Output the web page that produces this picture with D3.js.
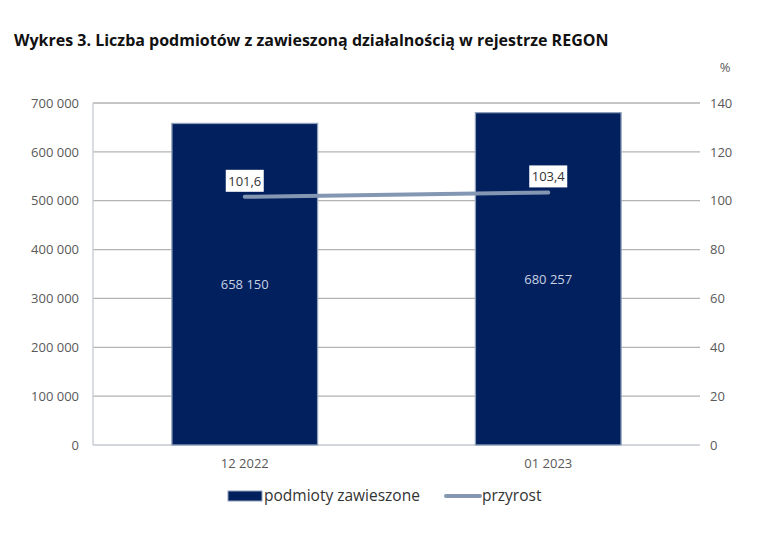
<!DOCTYPE html>
<html>
<head>
<meta charset="utf-8">
<script src="https://cdn.jsdelivr.net/npm/d3@7"></script>
<style>
  body { margin: 0; background: #fff; }
  text { font-family: "Open Sans", sans-serif; }
</style>
</head>
<body>
<div id="chart-div"></div>
<script>
const categories = ["12 2022", "01 2023"];
const suspended = [658150, 680257];
const growth = [101.6, 103.4];
const leftTicks = [0, 100000, 200000, 300000, 400000, 500000, 600000, 700000];
const rightTicks = [0, 20, 40, 60, 80, 100, 120, 140];

const svgDims = { width: 762, height: 534 };
const margin = { top: 103, right: 62, bottom: 89, left: 93 };

const svg = d3.select("#chart-div")
    .append("svg")
    .attr("width", svgDims.width)
    .attr("height", svgDims.height);

const width = svgDims.width - margin.left - margin.right;
const height = svgDims.height - margin.top - margin.bottom;
const g = svg.append("g").attr("transform", "translate(" + margin.left + "," + margin.top + ")");

const fmt = n => d3.format(",")(n).replace(/,/g, "\u00a0");
const fmtPct = n => String(n).replace(".", ",");

svg.append("text")
    .attr("x", 14).attr("y", 46)
    .style("font-weight", "bold")
    .style("font-size", "16px")
    .attr("fill", "#111")
    .text("Wykres 3. Liczba podmiotów z zawieszoną działalnością w rejestrze REGON");

const x = d3.scaleBand().domain(categories).range([0, width]).paddingInner(0.52).paddingOuter(0.26);
const yLeft = d3.scaleLinear().domain([0, 700000]).range([height, 0]);
const yRight = d3.scaleLinear().domain([0, 140]).range([height, 0]);

// gridlines
g.selectAll("line.grid").data(leftTicks).enter().append("line")
    .attr("x1", 0).attr("x2", width)
    .attr("y1", d => yLeft(d)).attr("y2", d => yLeft(d))
    .attr("stroke", d => d === 0 ? "#c4c9d1" : "#b3b3b3")
    .attr("stroke-width", 1.3);

// left axis line
g.append("line").attr("x1", 0).attr("x2", 0).attr("y1", 0).attr("y2", height)
    .attr("stroke", "#c4c9d1").attr("stroke-width", 1.3);

// axes
const leftAxis = g.append("g")
    .call(d3.axisLeft(yLeft).tickValues(leftTicks).tickFormat(fmt).tickSize(0).tickPadding(14));
const rightAxis = g.append("g")
    .attr("transform", "translate(" + width + ",0)")
    .call(d3.axisRight(yRight).tickValues(rightTicks).tickSize(0).tickPadding(10));
const bottomAxis = g.append("g")
    .attr("transform", "translate(0," + height + ")")
    .call(d3.axisBottom(x).tickSize(0).tickPadding(14));
[leftAxis, rightAxis, bottomAxis].forEach(a => {
    a.select(".domain").remove();
    a.selectAll("text").attr("fill", "#595959").style("font-size", "13px").style("font-family", "'Open Sans', sans-serif");
});

svg.append("text").attr("x", 725).attr("y", 72).attr("text-anchor", "middle")
    .attr("fill", "#595959").style("font-size", "13px").text("%");

// bars
g.selectAll("rect.bar").data(suspended).enter().append("rect")
    .attr("x", (d, i) => x(categories[i]))
    .attr("width", x.bandwidth())
    .attr("y", d => yLeft(d))
    .attr("height", d => height - yLeft(d))
    .attr("fill", "#02205e")
    .attr("stroke", "#8fa0ba")
    .attr("stroke-width", 1.3);

// bar value labels
g.selectAll("text.barval").data(suspended).enter().append("text")
    .attr("x", (d, i) => x(categories[i]) + x.bandwidth() / 2)
    .attr("y", d => yLeft(d / 2) + 5)
    .attr("text-anchor", "middle")
    .attr("fill", "#c9d2e3")
    .style("font-size", "13px")
    .text(d => fmt(d));

// growth line
const line = d3.line()
    .x((d, i) => x(categories[i]) + x.bandwidth() / 2)
    .y(d => yRight(d));
g.append("path").datum(growth)
    .attr("d", line)
    .attr("fill", "none")
    .attr("stroke", "#8497b2")
    .attr("stroke-width", 4)
    .attr("stroke-linecap", "round");

// growth labels
const lbl = g.selectAll("g.lbl").data(growth).enter().append("g")
    .attr("transform", (d, i) => "translate(" + (x(categories[i]) + x.bandwidth() / 2) + "," + (yRight(d) - 16) + ")");
lbl.append("rect").attr("x", -19).attr("y", -11).attr("width", 38).attr("height", 22)
    .attr("fill", "#fff");
lbl.append("text").attr("text-anchor", "middle").attr("y", 5)
    .attr("fill", "#333").style("font-size", "13px")
    .text(d => fmtPct(d));

// legend
const legend = svg.append("g").attr("transform", "translate(0,496)");
legend.append("rect").attr("x", 228).attr("y", -5).attr("width", 34).attr("height", 10)
    .attr("fill", "#02205e").attr("stroke", "#8fa0ba");
legend.append("text").attr("x", 264).attr("y", 5).attr("fill", "#333").style("font-size", "15.5px")
    .text("podmioty zawieszone");
legend.append("line").attr("x1", 446).attr("x2", 480).attr("y1", 0).attr("y2", 0)
    .attr("stroke", "#8497b2").attr("stroke-width", 4).attr("stroke-linecap", "round");
legend.append("text").attr("x", 482).attr("y", 5).attr("fill", "#333").style("font-size", "15.5px")
    .text("przyrost");
</script>
</body>
</html>
